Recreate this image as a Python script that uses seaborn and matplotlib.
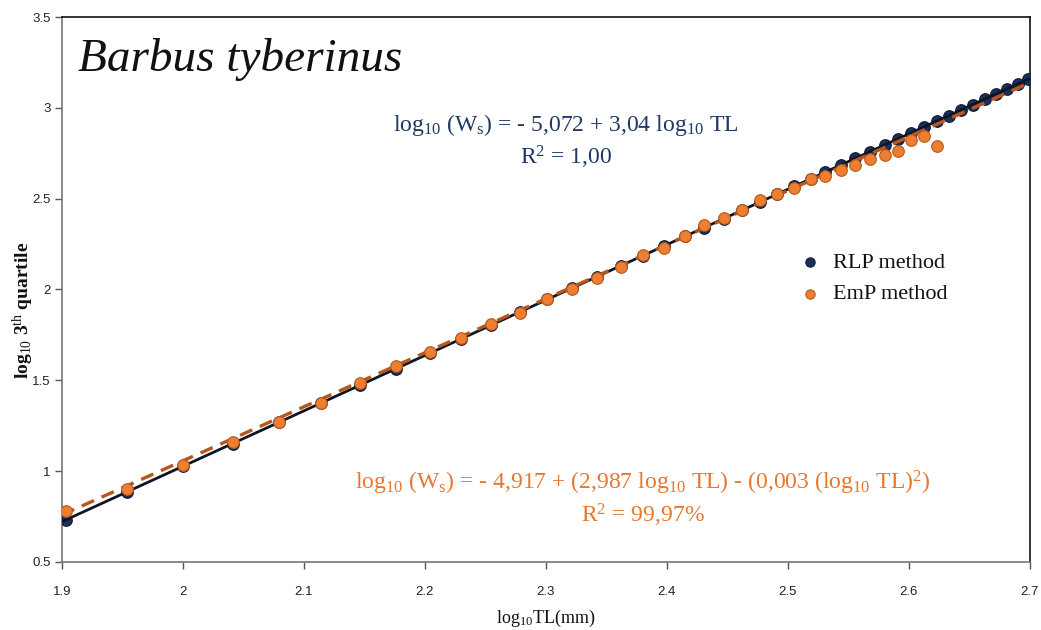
import numpy as np
import pandas as pd
import matplotlib
matplotlib.use("Agg")
import matplotlib.pyplot as plt
import seaborn as sns

# ---- data ----
log_tl = [1.903, 1.954, 2.000, 2.041, 2.079, 2.114, 2.146, 2.176, 2.204, 2.230,
          2.255, 2.279, 2.301, 2.322, 2.342, 2.362, 2.380, 2.398, 2.415, 2.431,
          2.447, 2.462, 2.477, 2.491, 2.505, 2.519, 2.531, 2.544, 2.556, 2.568,
          2.580, 2.591, 2.602, 2.613, 2.623, 2.633, 2.643, 2.653, 2.663, 2.672,
          2.681, 2.690, 2.699]
rlp_q3 = [0.731, 0.887, 1.027, 1.152, 1.268, 1.375, 1.472, 1.564, 1.649, 1.728,
          1.805, 1.878, 1.945, 2.009, 2.070, 2.131, 2.186, 2.241, 2.292, 2.341,
          2.390, 2.436, 2.481, 2.524, 2.567, 2.609, 2.646, 2.686, 2.722, 2.759,
          2.795, 2.829, 2.863, 2.896, 2.927, 2.957, 2.988, 3.018, 3.049, 3.076,
          3.103, 3.131, 3.158]
emp_q3 = [0.781, 0.902, 1.034, 1.161, 1.271, 1.376, 1.486, 1.578, 1.655, 1.735,
          1.812, 1.870, 1.945, 2.005, 2.062, 2.122, 2.191, 2.228, 2.295, 2.355,
          2.393, 2.437, 2.492, 2.525, 2.560, 2.607, 2.623, 2.656, 2.683, 2.721,
          2.738, 2.760, 2.825, 2.847, 2.792]
# trend-line coefficients (highest power first) as drawn in the reference
rlp_trend = [3.049, -5.071]
emp_trend = [-0.003, 2.987, -4.905]
x_range = [1.9, 2.7]

x_ticks = [1.9, 2.0, 2.1, 2.2, 2.3, 2.4, 2.5, 2.6, 2.7]
x_ticklabels = ["1.9", "2", "2.1", "2.2", "2.3", "2.4", "2.5", "2.6", "2.7"]
y_ticks = [0.5, 1.0, 1.5, 2.0, 2.5, 3.0, 3.5]
y_ticklabels = ["0.5", "1", "1.5", "2", "2.5", "3", "3.5"]

# ---- styling ----
sns.set_theme(style="white")
plt.rcParams["font.family"] = ["Liberation Serif", "DejaVu Serif"]
plt.rcParams["mathtext.fontset"] = "custom"
plt.rcParams["mathtext.rm"] = "Liberation Serif"
plt.rcParams["mathtext.it"] = "Liberation Serif:italic"
plt.rcParams["mathtext.bf"] = "Liberation Serif:bold"

NAVY = "#1c2f5a"
NAVY_EDGE = "#0f1a33"
ORANGE = "#ee7e32"
ORANGE_EDGE = "#b55a1c"
EQ_NAVY = "#1f3864"
EQ_ORANGE = "#e8772e"

fig = plt.figure(figsize=(10.41, 6.30), dpi=100)
ax = fig.add_axes([0.0596, 0.108, 0.9295, 0.865])

rlp_df = pd.DataFrame({"x": log_tl, "y": rlp_q3})
emp_df = pd.DataFrame({"x": log_tl[:len(emp_q3)], "y": emp_q3})

xs = np.linspace(x_range[0], x_range[1], 200)
line_df = pd.DataFrame({"x": xs,
                        "rlp": np.polyval(rlp_trend, xs),
                        "emp": np.polyval(emp_trend, xs)})

sns.scatterplot(data=rlp_df, x="x", y="y", ax=ax, color=NAVY, edgecolor=NAVY_EDGE,
                linewidth=0.8, s=70, zorder=3, label="RLP method")
sns.lineplot(data=line_df, x="x", y="rlp", ax=ax, color="#0d1626", lw=2.0, zorder=4)
sns.lineplot(data=line_df, x="x", y="emp", ax=ax, color="#b8561e", lw=2.4, zorder=4,
             dashes=False)
ax.lines[-1].set_dashes([4, 2.5])
sns.scatterplot(data=emp_df, x="x", y="y", ax=ax, color=ORANGE, edgecolor=ORANGE_EDGE,
                linewidth=0.8, s=70, zorder=5, label="EmP method")

ax.set_xlim(1.9, 2.7)
ax.set_ylim(0.5, 3.5)
ax.set_xticks(x_ticks)
ax.set_xticklabels(x_ticklabels, family=["Liberation Sans Narrow", "Liberation Sans", "DejaVu Sans"],
                   fontsize=9.5)
ax.set_yticks(y_ticks)
ax.set_yticklabels(y_ticklabels, family=["Liberation Sans", "DejaVu Sans"], fontsize=9.5)
ax.tick_params(axis="both", direction="out", length=5, width=1, colors="#555555",
               labelcolor="#222222", bottom=True, left=True)
ax.tick_params(axis="y", pad=3)
ax.tick_params(axis="x", pad=12)

for side in ["top", "right"]:
    ax.spines[side].set_color("#111111")
    ax.spines[side].set_linewidth(1.2)
for side in ["left", "bottom"]:
    ax.spines[side].set_color("#777777")
    ax.spines[side].set_linewidth(1.2)

ax.set_xlabel(r"log$_{10}$TL(mm)", fontsize=13, color="#111111", va="center")
ax.xaxis.set_label_coords(0.5, -0.103)
ax.set_ylabel(r"log$_{10}$ 3$^{\mathrm{th}}$ quartile", fontsize=14, color="#111111",
              fontweight="bold", va="center")
ax.yaxis.set_label_coords(-0.040, 0.462)

# title
ax.text(0.017, 0.962, "Barbus tyberinus", transform=ax.transAxes, fontsize=34,
        fontstyle="italic", va="top", ha="left", color="#111111")

# equations
ax.text(0.521, 0.802, r"log$_{10}$ (W$_{\mathrm{s}}$) = - 5,072 + 3,04 log$_{10}$ TL",
        transform=ax.transAxes, fontsize=17, ha="center", va="center", color=EQ_NAVY)
ax.text(0.521, 0.743, r"R$^{2}$ = 1,00", transform=ax.transAxes, fontsize=17,
        ha="center", va="center", color=EQ_NAVY)
ax.text(0.600, 0.145,
        r"log$_{10}$ (W$_{\mathrm{s}}$) = - 4,917 + (2,987 log$_{10}$ TL) - (0,003 (log$_{10}$ TL)$^{2}$)",
        transform=ax.transAxes, fontsize=17, ha="center", va="center", color=EQ_ORANGE)
ax.text(0.600, 0.086, r"R$^{2}$ = 99,97%", transform=ax.transAxes, fontsize=17,
        ha="center", va="center", color=EQ_ORANGE)

leg = ax.legend(loc="upper left", bbox_to_anchor=(0.729, 0.605), frameon=False,
                fontsize=16, handletextpad=0.05, labelspacing=0.5, markerscale=0.8)
for t in leg.get_texts():
    t.set_color("#111111")

fig.savefig("out.png", dpi=100)
